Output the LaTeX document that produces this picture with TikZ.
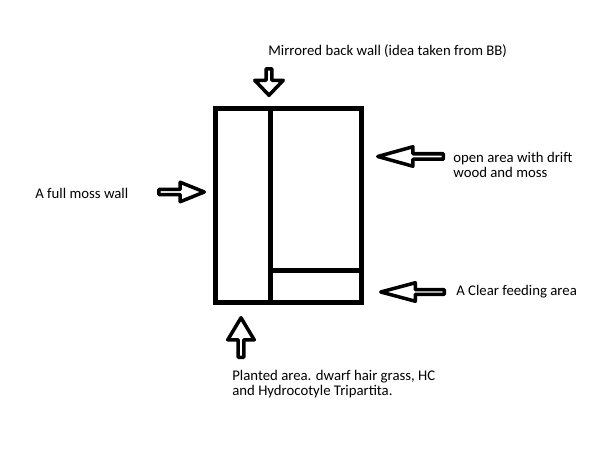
\documentclass[tikz,border=0pt]{standalone}
\usepackage{fontspec}
\setmainfont{Carlito}
\usetikzlibrary{shapes.arrows}
\tikzset{
    note/.style={inner sep=0pt, align=left, anchor=west, font=\fontsize{8.4pt}{8.6pt}\selectfont},
    blockarrow/.style={single arrow, draw, line width=2pt, line join=round, fill=white, inner sep=0pt, outer sep=0pt, anchor=tip},
    tankline/.style={line width=0.1cm},
}
\begin{document}
\begin{tikzpicture}[x=0.02cm, y=-0.02cm]
\useasboundingbox (0,0) rectangle (600,455);

% tank seen from above
\draw[tankline] (215.5,108.5) rectangle (361.5,302.5);
\coordinate (divtop) at (270.5,108.5);
\coordinate (divbot) at (270.5,302.5);
\coordinate (feedw) at (270.5,270.5);
\coordinate (feede) at (361.5,270.5);
\draw[tankline] (divtop) -- (divbot);
\draw[tankline] (feedw) -- (feede);

% pointers
\node[blockarrow, shape border rotate=270, minimum height=0.53cm, minimum width=0.57cm,
      single arrow head extend=0.14cm, single arrow tip angle=87] (backarr) at (269,95.3) {};
\node[blockarrow, shape border rotate=0, minimum height=0.91cm, minimum width=0.39cm,
      single arrow head extend=0.1cm, single arrow tip angle=44] (mossarr) at (204.3,192) {};
\node[blockarrow, shape border rotate=180, minimum height=1.31cm, minimum width=0.39cm,
      single arrow head extend=0.09cm, single arrow tip angle=31] (openarr) at (377.8,156.5) {};
\node[blockarrow, shape border rotate=180, minimum height=1.27cm, minimum width=0.37cm,
      single arrow head extend=0.1cm, single arrow tip angle=30] (feedarr) at (380.8,292) {};
\node[blockarrow, shape border rotate=90, minimum height=0.79cm, minimum width=0.53cm,
      single arrow head extend=0.13cm, single arrow tip angle=62] (plantarr) at (241,317.8) {};

% labels
\node[note] (backlbl) at (268,51) {Mirrored back wall (idea taken from BB)};
\node[note] (mosslbl) at (35,193) {A full moss wall};
\node[note] (openlbl) at (453,164.5) {open area with drift\\wood and moss};
\node[note] (feedlbl) at (456,292) {A Clear feeding area};
\node[note] (plantlbl) at (232,384.5) {Planted area. dwarf hair grass, HC\\and Hydrocotyle Tripartita.};
\end{tikzpicture}
\end{document}
